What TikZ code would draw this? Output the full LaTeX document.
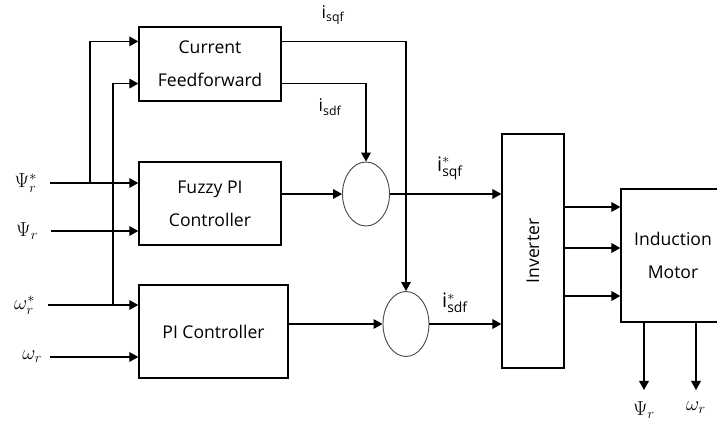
\documentclass[tikz,border=0pt]{standalone}
\usepackage{fontspec}
\setmainfont{Open Sans}
\usetikzlibrary{positioning, arrows.meta, shapes.geometric, calc}

\begin{document}
\begin{tikzpicture}[
    x=0.03cm, y=-0.03cm,
    font=\fontsize{15}{18}\selectfont,
    node distance=2mm,
    >={Triangle[length=2.7mm, width=2.9mm]},
    block/.style={
        rectangle, draw=black, line width=1.1pt,
        align=center, inner sep=2pt,
        font=\fontsize{15}{28}\selectfont
    },
    summer/.style={
        ellipse, draw=black!70, line width=0.8pt, inner sep=0pt
    },
    sig/.style={->, line width=1.1pt},
    lbl/.style={inner sep=1pt},
    var/.style={inner sep=1pt, font=\fontsize{17}{20}\selectfont}
]
\useasboundingbox (0,0) rectangle (717,426);

% ============ BLOCKS ============
\node[block, minimum width=42.6mm, minimum height=22.2mm] (cf) at (210,64) {Current\\Feedforward};
\node[block, minimum width=42.6mm, minimum height=24.9mm] (fpi) at (210,203.5) {Fuzzy PI\\Controller};
\node[block, minimum width=44.7mm, minimum height=27.9mm] (pi) at (213.5,331.5) {PI Controller};
\node[summer, minimum width=14.1mm, minimum height=19.2mm] (sq) at (366,194) {};
\node[summer, minimum width=13.8mm, minimum height=19.5mm] (sd) at (406,324) {};
\node[block, minimum width=18.6mm, minimum height=70.2mm] (inv) at (533,251) {\rotatebox{90}{Inverter}};
\node[block, minimum width=31.2mm, minimum height=39.9mm] (im) at (673,255.5) {Induction\\Motor};

% ============ INPUTS (left side) ============
\coordinate (inps) at (50,183);
\coordinate (inp)  at (51,231);
\coordinate (inws) at (48,305);
\coordinate (inw)  at (50,357);
\node[var, left=3.5mm of inps] (lps) {$\Psi_r^{*}$};
\node[var, left=3.5mm of inp]  (lp)  {$\Psi_r$};
\node[var, left=3.5mm of inws] (lws) {$\omega_r^{*}$};
\node[var, left=2mm of inw]    (lw)  {$\omega_r$};

\draw[sig] (inps) -- (inps -| fpi.west);
\draw[sig] (inp) -- (inp -| fpi.west);
\draw[sig] (inws) -- (inws -| pi.west);
\draw[sig] (inw) -- (inw -| pi.west);

% branches to current feedforward
\coordinate (b1) at (90,183);
\coordinate (b2) at (113,305);
\draw[sig] (b1) |- ($(cf.north west)!0.2!(cf.south west)$);
\draw[sig] (b2) |- ($(cf.north west)!0.76!(cf.south west)$);

% ============ CURRENT REFERENCES ============
\draw[sig] ($(cf.north east)!0.2!(cf.south east)$) -| (sd.north);
\draw[sig] ($(cf.north east)!0.76!(cf.south east)$) -| (sq.north);
\draw[sig] (sq.west -| fpi.east) -- (sq.west);
\draw[sig] (sd.west -| pi.east) -- (sd.west);
\draw[sig] (sq.east) -- (sq.east -| inv.west);
\draw[sig] (sd.east) -- (sd.east -| inv.west);

\node[lbl] (lisq) at (333,15) {i\textsubscript{sqf}};
\node[lbl] (lisd) at (330,107) {i\textsubscript{sdf}};
\node[var] (lrsq) at (450,168) {$\mathrm{i}^{*}_{\mathrm{sqf}}$};
\node[var] (lrsd) at (455,303) {$\mathrm{i}^{*}_{\mathrm{sdf}}$};

% ============ INVERTER -> MOTOR ============
\foreach \y in {207,248,296}
    \draw[sig] (inv.east |- 0,\y) -- (im.west |- 0,\y);

% ============ MOTOR OUTPUTS ============
\coordinate (ops) at (644,390);
\coordinate (ow)  at (696,390);
\draw[sig] (ops |- im.south) -- (ops);
\draw[sig] (ow |- im.south) -- (ow);
\node[var, below=3mm of ops] (lops) {$\Psi_r$};
\node[var, below=3mm of ow]  (low)  {$\omega_r$};

\end{tikzpicture}
\end{document}
